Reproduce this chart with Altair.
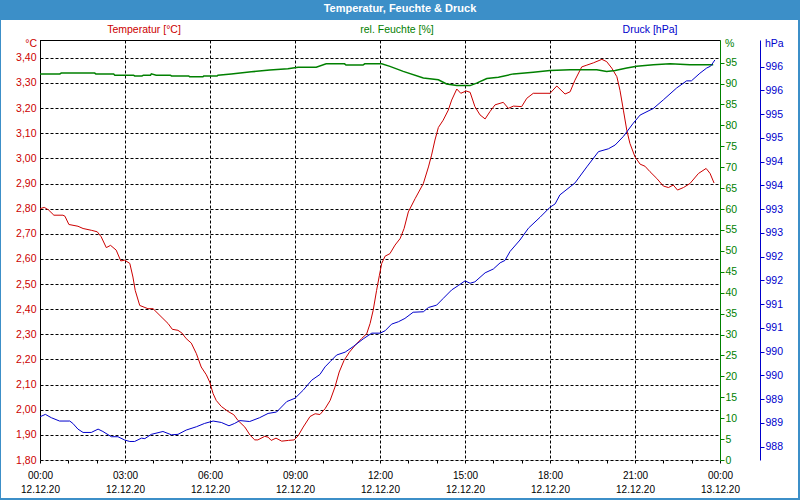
import altair as alt
import pandas as pd

# ---------------- data ----------------
temp_hours = [0.0, 0.15, 0.3, 0.49, 0.81, 0.88, 1.02, 1.34, 1.52, 1.81, 2.02, 2.16, 2.34, 2.49, 2.69, 2.85, 2.99,
              3.17, 3.28, 3.36, 3.52, 3.81, 3.99, 4.34, 4.52, 4.67, 4.87, 5.01, 5.16, 5.34, 5.52, 5.69, 5.87, 5.99,
              6.11, 6.22, 6.40, 6.64, 6.84, 6.99, 7.23, 7.42, 7.58, 7.69, 7.93, 8.05, 8.16, 8.33, 8.53, 8.77, 8.97,
              9.12, 9.29, 9.53, 9.71, 9.88, 10.06, 10.24, 10.41, 10.56, 10.73, 10.92, 11.12, 11.35, 11.53, 11.65,
              11.76, 11.88, 11.98, 12.06, 12.18, 12.35, 12.53, 12.71, 12.85, 13.00, 13.24, 13.53, 13.71, 13.82,
              13.94, 14.06, 14.23, 14.41, 14.53, 14.71, 14.85, 15.04, 15.18, 15.35, 15.53, 15.71, 15.88, 16.06,
              16.35, 16.53, 16.71, 17.00, 17.18, 17.41, 18.00, 18.24, 18.53, 18.71, 18.88, 19.12, 19.30, 19.53,
              19.83, 20.00, 20.18, 20.36, 20.47, 20.59, 20.71, 20.82, 21.00, 21.18, 21.35, 21.53, 21.77, 22.00,
              22.18, 22.35, 22.50, 22.71, 22.94, 23.24, 23.51, 23.65, 23.79]
temp_values = [2.800, 2.805, 2.795, 2.774, 2.774, 2.770, 2.737, 2.730, 2.721, 2.714, 2.708, 2.688, 2.645, 2.654,
               2.635, 2.592, 2.595, 2.582, 2.528, 2.475, 2.415, 2.402, 2.402, 2.363, 2.343, 2.320, 2.316, 2.305,
               2.283, 2.265, 2.223, 2.170, 2.139, 2.110, 2.064, 2.037, 2.013, 1.993, 1.980, 1.957, 1.931, 1.898,
               1.880, 1.880, 1.894, 1.891, 1.878, 1.887, 1.875, 1.878, 1.880, 1.898, 1.931, 1.973, 1.984, 1.981,
               2.004, 2.037, 2.090, 2.150, 2.196, 2.229, 2.256, 2.283, 2.302, 2.343, 2.396, 2.475, 2.535, 2.582,
               2.611, 2.621, 2.655, 2.681, 2.721, 2.787, 2.840, 2.900, 2.966, 3.013, 3.073, 3.123, 3.152, 3.192,
               3.232, 3.276, 3.259, 3.268, 3.263, 3.206, 3.173, 3.157, 3.186, 3.213, 3.223, 3.199, 3.208, 3.206,
               3.239, 3.259, 3.259, 3.288, 3.256, 3.265, 3.311, 3.364, 3.371, 3.380, 3.394, 3.385, 3.359, 3.325,
               3.271, 3.192, 3.112, 3.060, 3.006, 2.977, 2.969, 2.947, 2.920, 2.890, 2.884, 2.894, 2.874, 2.884,
               2.900, 2.940, 2.960, 2.940, 2.902]

hum_hours = [0.0, 0.7, 0.75, 1.93, 1.97, 2.6, 2.64, 3.3, 3.34, 3.6, 3.65, 3.9, 3.93, 4.1, 4.6, 4.64, 5.25, 5.28,
             5.75, 5.78, 6.25, 6.28, 6.75, 7.46, 8.11, 8.75, 9.11, 9.75, 10.1, 10.75, 10.8, 11.4, 11.46, 12.06,
             12.35, 12.82, 13.53, 14.06, 14.35, 14.71, 15.18, 15.41, 15.77, 16.18, 16.71, 17.41, 18.0, 18.71,
             19.65, 20.0, 20.3, 20.71, 21.06, 21.65, 22.24, 22.94, 23.76]
hum_values = [92.3, 92.3, 92.5, 92.5, 92.3, 92.3, 92.0, 92.0, 91.8, 91.8, 92.0, 92.0, 92.3, 92.0, 92.0, 91.8,
              91.8, 91.6, 91.6, 91.8, 91.8, 92.0, 92.3, 92.8, 93.2, 93.5, 93.9, 93.9, 94.7, 94.7, 94.4, 94.4,
              94.7, 94.7, 94.1, 92.9, 91.3, 90.9, 89.9, 89.5, 89.5, 90.1, 91.2, 91.5, 92.3, 92.7, 93.1, 93.3,
              93.3, 92.9, 93.1, 93.7, 94.1, 94.5, 94.7, 94.5, 94.5]

press_hours = [0.0, 0.19, 0.40, 0.69, 1.05, 1.16, 1.34, 1.52, 1.81, 2.05, 2.22, 2.52, 2.75, 2.99, 3.17, 3.34,
               3.58, 3.70, 3.93, 4.34, 4.64, 4.87, 5.16, 5.52, 5.81, 6.11, 6.40, 6.67, 6.87, 7.05, 7.40, 7.75,
               8.05, 8.35, 8.71, 9.00, 9.29, 9.59, 9.88, 10.06, 10.24, 10.47, 10.77, 11.06, 11.41, 11.71, 12.00,
               12.18, 12.41, 12.65, 12.88, 13.17, 13.53, 13.71, 14.00, 14.23, 14.53, 14.76, 15.00, 15.18, 15.35,
               15.71, 16.00, 16.24, 16.41, 16.59, 16.94, 17.24, 17.65, 18.00, 18.18, 18.35, 18.71, 18.88, 19.30,
               19.71, 20.06, 20.30, 20.59, 20.94, 21.18, 21.65, 22.00, 22.47, 22.82, 22.99, 23.29, 23.53, 23.67,
               23.82]
press_values = [988.63, 988.68, 988.61, 988.54, 988.54, 988.49, 988.37, 988.30, 988.30, 988.37, 988.32, 988.21,
                988.21, 988.14, 988.11, 988.11, 988.18, 988.17, 988.26, 988.32, 988.25, 988.26, 988.35, 988.42,
                988.49, 988.54, 988.51, 988.44, 988.49, 988.55, 988.53, 988.61, 988.70, 988.73, 988.95, 989.02,
                989.19, 989.40, 989.52, 989.68, 989.79, 989.93, 989.99, 990.11, 990.27, 990.39, 990.39, 990.44,
                990.58, 990.63, 990.70, 990.83, 990.84, 990.93, 990.98, 991.12, 991.30, 991.39, 991.49, 991.44,
                991.47, 991.66, 991.74, 991.87, 991.92, 992.11, 992.35, 992.60, 992.83, 993.04, 993.11, 993.30,
                993.47, 993.55, 993.89, 994.21, 994.27, 994.35, 994.53, 994.81, 994.98, 995.12, 995.30, 995.55,
                995.70, 995.70, 995.86, 995.97, 996.01, 996.14]

temp_ticks = [1.8, 1.9, 2.0, 2.1, 2.2, 2.3, 2.4, 2.5, 2.6, 2.7, 2.8, 2.9, 3.0, 3.1, 3.2, 3.3, 3.4]
hum_ticks = list(range(0, 100, 5))
press_ticks = [988.0 + 0.5 * i for i in range(17)]
x_tick_times = ["00:00", "03:00", "06:00", "09:00", "12:00", "15:00", "18:00", "21:00", "00:00"]
x_tick_dates = ["12.12.20"] * 8 + ["13.12.20"]

title_text = "Temperatur, Feuchte & Druck"
header_texts = ["Temperatur [°C]", "rel. Feuchte [%]", "Druck [hPa]"]
unit_texts = ["°C", "%", "hPa"]

# ---------------- style ----------------
RED = "#cc0000"
GREEN = "#008000"
BLUE = "#0000cc"
FRAME = "#3c8fc8"
FONT = "Liberation Sans"

W, H = 680, 420

df_t = pd.DataFrame({"h": temp_hours, "v": temp_values})
df_h = pd.DataFrame({"h": hum_hours, "v": hum_values})
df_p = pd.DataFrame({"h": press_hours, "v": press_values})
one = pd.DataFrame({"a": [0]})

times_js = "[" + ",".join("'%s'" % t for t in x_tick_times) + "]"
dates_js = "[" + ",".join("'%s'" % d for d in x_tick_dates) + "]"
x_label_expr = ("datum.value % 3 == 0 ? [" + times_js + "[datum.value/3], " + dates_js
                + "[datum.value/3]] : ''")

x_scale = alt.Scale(domain=[0, 24], nice=False, zero=False)


def x_axis():
    return alt.Axis(
        orient="bottom", values=list(range(25)), title=None, domain=False,
        grid=True, gridColor="black", gridDash=[3, 2], gridWidth=1,
        gridOpacity={"condition": {"test": "datum.value % 3 == 0", "value": 1}, "value": 0},
        tickSize=3, tickColor="black", labelColor="black", labelFont=FONT, labelFontSize=10,
        labelExpr=x_label_expr, labelLineHeight=14, labelPadding=7, labelOverlap=False,
        labelBaseline="top", labelFlush=False,
    )


temp_layer = alt.Chart(df_t).mark_line(color=RED, strokeWidth=1).encode(
    x=alt.X("h:Q", scale=x_scale, axis=x_axis()),
    y=alt.Y("v:Q", scale=alt.Scale(domain=[1.8, 3.471], nice=False, zero=False),
            axis=alt.Axis(orient="left", values=temp_ticks, title=None, grid=True,
                          gridColor="black", gridDash=[3, 2], gridWidth=1, domainColor="black",
                          tickSize=0, labelPadding=4, labelColor=RED, labelFont=FONT,
                          labelFontSize=10.5, labelFlush=False,
                          labelExpr="replace(format(datum.value, '.2f'), '.', ',')")),
)

hum_layer = alt.Chart(df_h).mark_line(color=GREEN, strokeWidth=1.5).encode(
    x=alt.X("h:Q", scale=x_scale, axis=x_axis()),
    y=alt.Y("v:Q", scale=alt.Scale(domain=[0, 100.4], nice=False, zero=False),
            axis=alt.Axis(orient="right", offset=0, values=hum_ticks, title=None, grid=False,
                          domainColor=GREEN, domainWidth=1, tickColor=GREEN, tickSize=4,
                          labelPadding=1, labelColor=GREEN, labelFont=FONT, labelFontSize=10.5,
                          labelFlush=False, labelExpr="format(datum.value, 'd')")),
)

press_layer = alt.Chart(df_p).mark_line(color=BLUE, strokeWidth=1).encode(
    x=alt.X("h:Q", scale=x_scale, axis=x_axis()),
    y=alt.Y("v:Q", scale=alt.Scale(domain=[987.72, 996.56], nice=False, zero=False),
            axis=alt.Axis(orient="right", offset=40, values=press_ticks, title=None, grid=False,
                          domainColor=BLUE, domainWidth=1, tickColor=BLUE, tickSize=4,
                          labelPadding=1, labelColor=BLUE, labelFont=FONT, labelFontSize=10.5,
                          labelFlush=False, labelExpr="format(round(datum.value), 'd')")),
)

# ---------------- decoration ----------------
title_bar = alt.Chart(one).mark_rect(color=FRAME).encode(
    x=alt.value(-40), x2=alt.value(760), y=alt.value(-40), y2=alt.value(-20))
border_left = alt.Chart(one).mark_rect(color=FRAME).encode(
    x=alt.value(-40), x2=alt.value(-39), y=alt.value(-40), y2=alt.value(460))
border_right = alt.Chart(one).mark_rect(color=FRAME).encode(
    x=alt.value(758), x2=alt.value(760), y=alt.value(-40), y2=alt.value(460))
border_bottom = alt.Chart(one).mark_rect(color=FRAME).encode(
    x=alt.value(-40), x2=alt.value(760), y=alt.value(458), y2=alt.value(460))
top_rule = alt.Chart(one).mark_rule(color="black", strokeWidth=1).encode(
    x=alt.value(0), x2=alt.value(W), y=alt.value(0.5))

title_mark = alt.Chart(one).mark_text(color="white", font=FONT, fontSize=11, fontWeight="bold",
                                      align="center", baseline="middle").encode(
    x=alt.value(360), y=alt.value(-31), text=alt.value(title_text))

hdr_t = alt.Chart(one).mark_text(color=RED, font=FONT, fontSize=10.5, align="center", baseline="middle").encode(
    x=alt.value(104), y=alt.value(-10), text=alt.value(header_texts[0]))
hdr_h = alt.Chart(one).mark_text(color=GREEN, font=FONT, fontSize=10.5, align="center", baseline="middle").encode(
    x=alt.value(357), y=alt.value(-10), text=alt.value(header_texts[1]))
hdr_p = alt.Chart(one).mark_text(color=BLUE, font=FONT, fontSize=10.5, align="center", baseline="middle").encode(
    x=alt.value(610), y=alt.value(-10), text=alt.value(header_texts[2]))

unit_t = alt.Chart(one).mark_text(color=RED, font=FONT, fontSize=10.5, align="right", baseline="middle").encode(
    x=alt.value(-3), y=alt.value(4), text=alt.value(unit_texts[0]))
unit_h = alt.Chart(one).mark_text(color=GREEN, font=FONT, fontSize=10.5, align="left", baseline="middle").encode(
    x=alt.value(685), y=alt.value(4), text=alt.value(unit_texts[1]))
unit_p = alt.Chart(one).mark_text(color=BLUE, font=FONT, fontSize=10.5, align="left", baseline="middle").encode(
    x=alt.value(725), y=alt.value(4), text=alt.value(unit_texts[2]))

chart = alt.layer(
    temp_layer, hum_layer, press_layer,
    title_bar, border_left, border_right, border_bottom, top_rule,
    title_mark, hdr_t, hdr_h, hdr_p, unit_t, unit_h, unit_p,
).resolve_scale(y="independent").properties(
    width=W, height=H,
    padding={"left": 40, "top": 40, "right": 80, "bottom": 40},
    autosize=alt.AutoSizeParams(type="none"),
).configure_view(stroke=None).configure(background="white")

chart.save("out.html", embed_options={"renderer": "svg", "actions": False})
